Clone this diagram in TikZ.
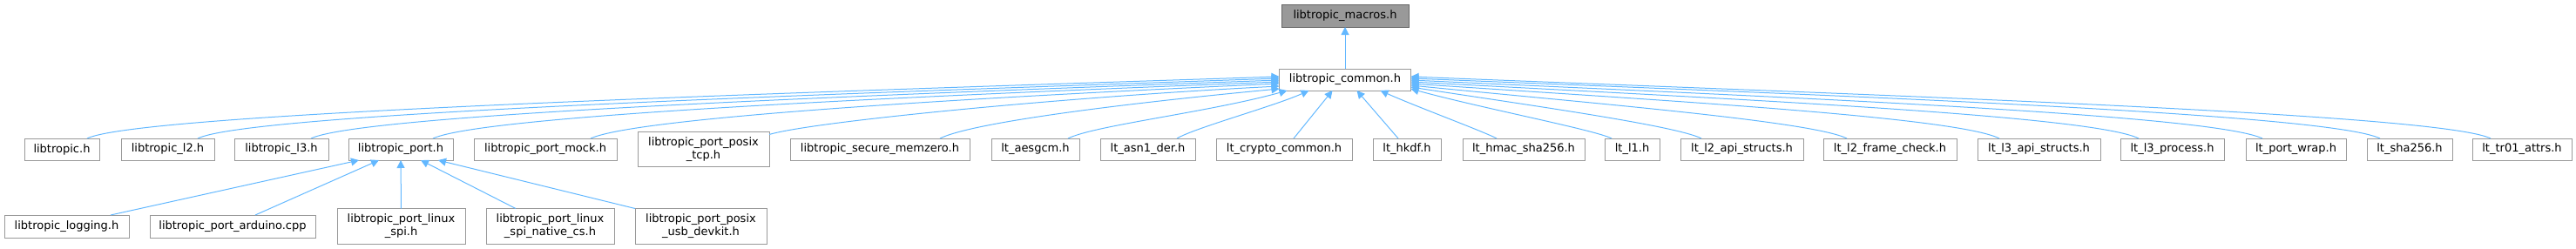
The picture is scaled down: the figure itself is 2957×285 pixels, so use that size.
\documentclass[tikz,border=0pt]{standalone}
\usepackage{fontspec}
\setmainfont{DejaVu Sans}
\usepackage{xcolor}
\usepackage{tikz}
\usetikzlibrary{arrows.meta, positioning}

\definecolor{edgeblue}{HTML}{63B8FF}
\definecolor{boxgray}{HTML}{999999}
\definecolor{rootfill}{HTML}{999999}
\definecolor{rootdraw}{HTML}{666666}

\begin{document}
\begin{tikzpicture}[
    x=1pt, y=-1pt,
    header/.style={rectangle, draw=boxgray, fill=white, line width=1pt, minimum height=25pt, inner sep=0pt, outer sep=0pt, align=center, font=\fontsize{13pt}{15pt}\selectfont},
    twoline/.style={header, minimum height=40pt},
    current/.style={header, fill=rootfill, draw=rootdraw},
    arrow/.style={-{Triangle[length=9pt, width=9pt]}, draw=edgeblue, line width=1pt}
]
\useasboundingbox (0,0) rectangle (2957,285);

% Top headers
\node[current, minimum width=146pt, minimum height=26pt] (macros) at (1544,18) {libtropic\_macros.h};
\node[header, minimum width=151pt, below=48pt of macros] (common) {libtropic\_common.h};

% Headers including libtropic_common.h
\node[header, minimum width=86pt] (tropic) at (71,171.5) {libtropic.h};
\node[header, minimum width=107pt, right=25pt of tropic] (l2) {libtropic\_l2.h};
\node[header, minimum width=108pt, right=23pt of l2] (l3) {libtropic\_l3.h};
\node[header, minimum width=120pt, right=23pt of l3] (port) {libtropic\_port.h};
\node[header, minimum width=164pt, right=24pt of port] (mock) {libtropic\_port\_mock.h};
\node[twoline, minimum width=151pt, right=24pt of mock] (tcp) {libtropic\_port\_posix\\\_tcp.h};
\node[header, minimum width=206pt, right=24pt of tcp] (memzero) {libtropic\_secure\_memzero.h};
\node[header, minimum width=101pt, right=25pt of memzero] (aesgcm) {lt\_aesgcm.h};
\node[header, minimum width=109pt, right=24pt of aesgcm] (asn1) {lt\_asn1\_der.h};
\node[header, minimum width=156pt, right=24pt of asn1] (crypto) {lt\_crypto\_common.h};
\node[header, minimum width=78pt, right=24pt of crypto] (hkdf) {lt\_hkdf.h};
\node[header, minimum width=140pt, right=25pt of hkdf] (hmac) {lt\_hmac\_sha256.h};
\node[header, minimum width=63pt, right=23pt of hmac] (l1) {lt\_l1.h};
\node[header, minimum width=141pt, right=24pt of l1] (l2api) {lt\_l2\_api\_structs.h};
\node[header, minimum width=153pt, right=23pt of l2api] (l2frame) {lt\_l2\_frame\_check.h};
\node[header, minimum width=141pt, right=24pt of l2frame] (l3api) {lt\_l3\_api\_structs.h};
\node[header, minimum width=119pt, right=23pt of l3api] (l3proc) {lt\_l3\_process.h};
\node[header, minimum width=115pt, right=25pt of l3proc] (wrap) {lt\_port\_wrap.h};
\node[header, minimum width=98pt, right=24pt of wrap] (sha) {lt\_sha256.h};
\node[header, minimum width=114pt, right=23pt of sha] (attrs) {lt\_tr01\_attrs.h};

% Headers including libtropic_port.h
\node[header, minimum width=143pt, minimum height=26pt] (logging) at (76.5,260) {libtropic\_logging.h};
\node[header, minimum width=190pt, minimum height=26pt, right=24pt of logging] (arduino) {libtropic\_port\_arduino.cpp};
\node[twoline, minimum width=147pt, minimum height=41pt, right=25pt of arduino] (spi) {libtropic\_port\_linux\\\_spi.h};
\node[twoline, minimum width=147pt, minimum height=41pt, right=24pt of spi] (nativecs) {libtropic\_port\_linux\\\_spi\_native\_cs.h};
\node[twoline, minimum width=151pt, minimum height=41pt, right=24pt of nativecs] (devkit) {libtropic\_port\_posix\\\_usb\_devkit.h};

% Arrows
\draw[arrow] (common.north) -- (macros.south);

\draw[arrow] ([xshift=-14pt]tropic.north east) .. controls +(60,-29) and +(-580,19) .. ([yshift=3.5pt]common.west);
\draw[arrow] ([xshift=-19pt]l2.north east) .. controls +(60,-29) and +(-520,18) .. ([yshift=1.5pt]common.west);
\draw[arrow] ([xshift=-20pt]l3.north east) .. controls +(60,-28) and +(-470,17) .. ([yshift=-0.5pt]common.west);
\draw[arrow] ([xshift=-23pt]port.north east) .. controls +(60,-27) and +(-410,16) .. ([yshift=-2.5pt]common.west);
\draw[arrow] ([xshift=-30pt]mock.north east) .. controls +(55,-25) and +(-330,15) .. ([yshift=-4.5pt]common.west);
\draw[arrow] ([yshift=-3pt]tcp.north east) .. controls +(50,-15) and +(-240,12) .. ([yshift=-7.5pt]common.west);
\draw[arrow] ([xshift=-34pt]memzero.north east) .. controls +(40,-20) and +(-150,14) .. ([yshift=-10.5pt]common.west);
\draw[arrow] ([xshift=-13pt]aesgcm.north east) .. controls +(30,-15) and +(-90,25) .. ([xshift=-66.5pt]common.south);
\draw[arrow] ([xshift=-21pt]asn1.north east) .. controls +(20,-12) and +(-40,18) .. ([xshift=-41.5pt]common.south);
\draw[arrow] ([xshift=11pt]crypto.north) -- ([xshift=-14.5pt]common.south);
\draw[arrow] ([xshift=-10pt]hkdf.north) -- ([xshift=13.5pt]common.south);
\draw[arrow] ([xshift=39pt]hmac.north west) .. controls +(-15,-8) and +(40,18) .. ([xshift=40.5pt]common.south);
\draw[arrow] ([xshift=8pt]l1.north west) .. controls +(-20,-10) and +(80,22) .. ([yshift=-10.5pt]common.east);
\draw[arrow] ([xshift=24pt]l2api.north west) .. controls +(-30,-15) and +(130,20) .. ([yshift=-8.5pt]common.east);
\draw[arrow] ([xshift=27pt]l2frame.north west) .. controls +(-40,-20) and +(200,20) .. ([yshift=-6.5pt]common.east);
\draw[arrow] ([xshift=25pt]l3api.north west) .. controls +(-50,-25) and +(280,19) .. ([yshift=-4.5pt]common.east);
\draw[arrow] ([xshift=21pt]l3proc.north west) .. controls +(-55,-27) and +(350,19) .. ([yshift=-2.5pt]common.east);
\draw[arrow] ([xshift=19pt]wrap.north west) .. controls +(-60,-28) and +(410,19) .. ([yshift=-0.5pt]common.east);
\draw[arrow] ([xshift=15pt]sha.north west) .. controls +(-60,-29) and +(470,19) .. ([yshift=1.5pt]common.east);
\draw[arrow] ([xshift=21pt]attrs.north west) .. controls +(-60,-29) and +(520,21) .. ([yshift=3.5pt]common.east);

\draw[arrow] ([xshift=-21pt]logging.north east) -- ([xshift=12pt]port.south west);
\draw[arrow] ([xshift=26pt]arduino.north) -- ([xshift=35pt]port.south west);
\draw[arrow] (spi.north) -- (port.south);
\draw[arrow] ([xshift=34pt]nativecs.north west) -- ([xshift=23pt]port.south);
\draw[arrow] (devkit.north west) -- ([xshift=43pt]port.south);

\end{tikzpicture}
\end{document}
